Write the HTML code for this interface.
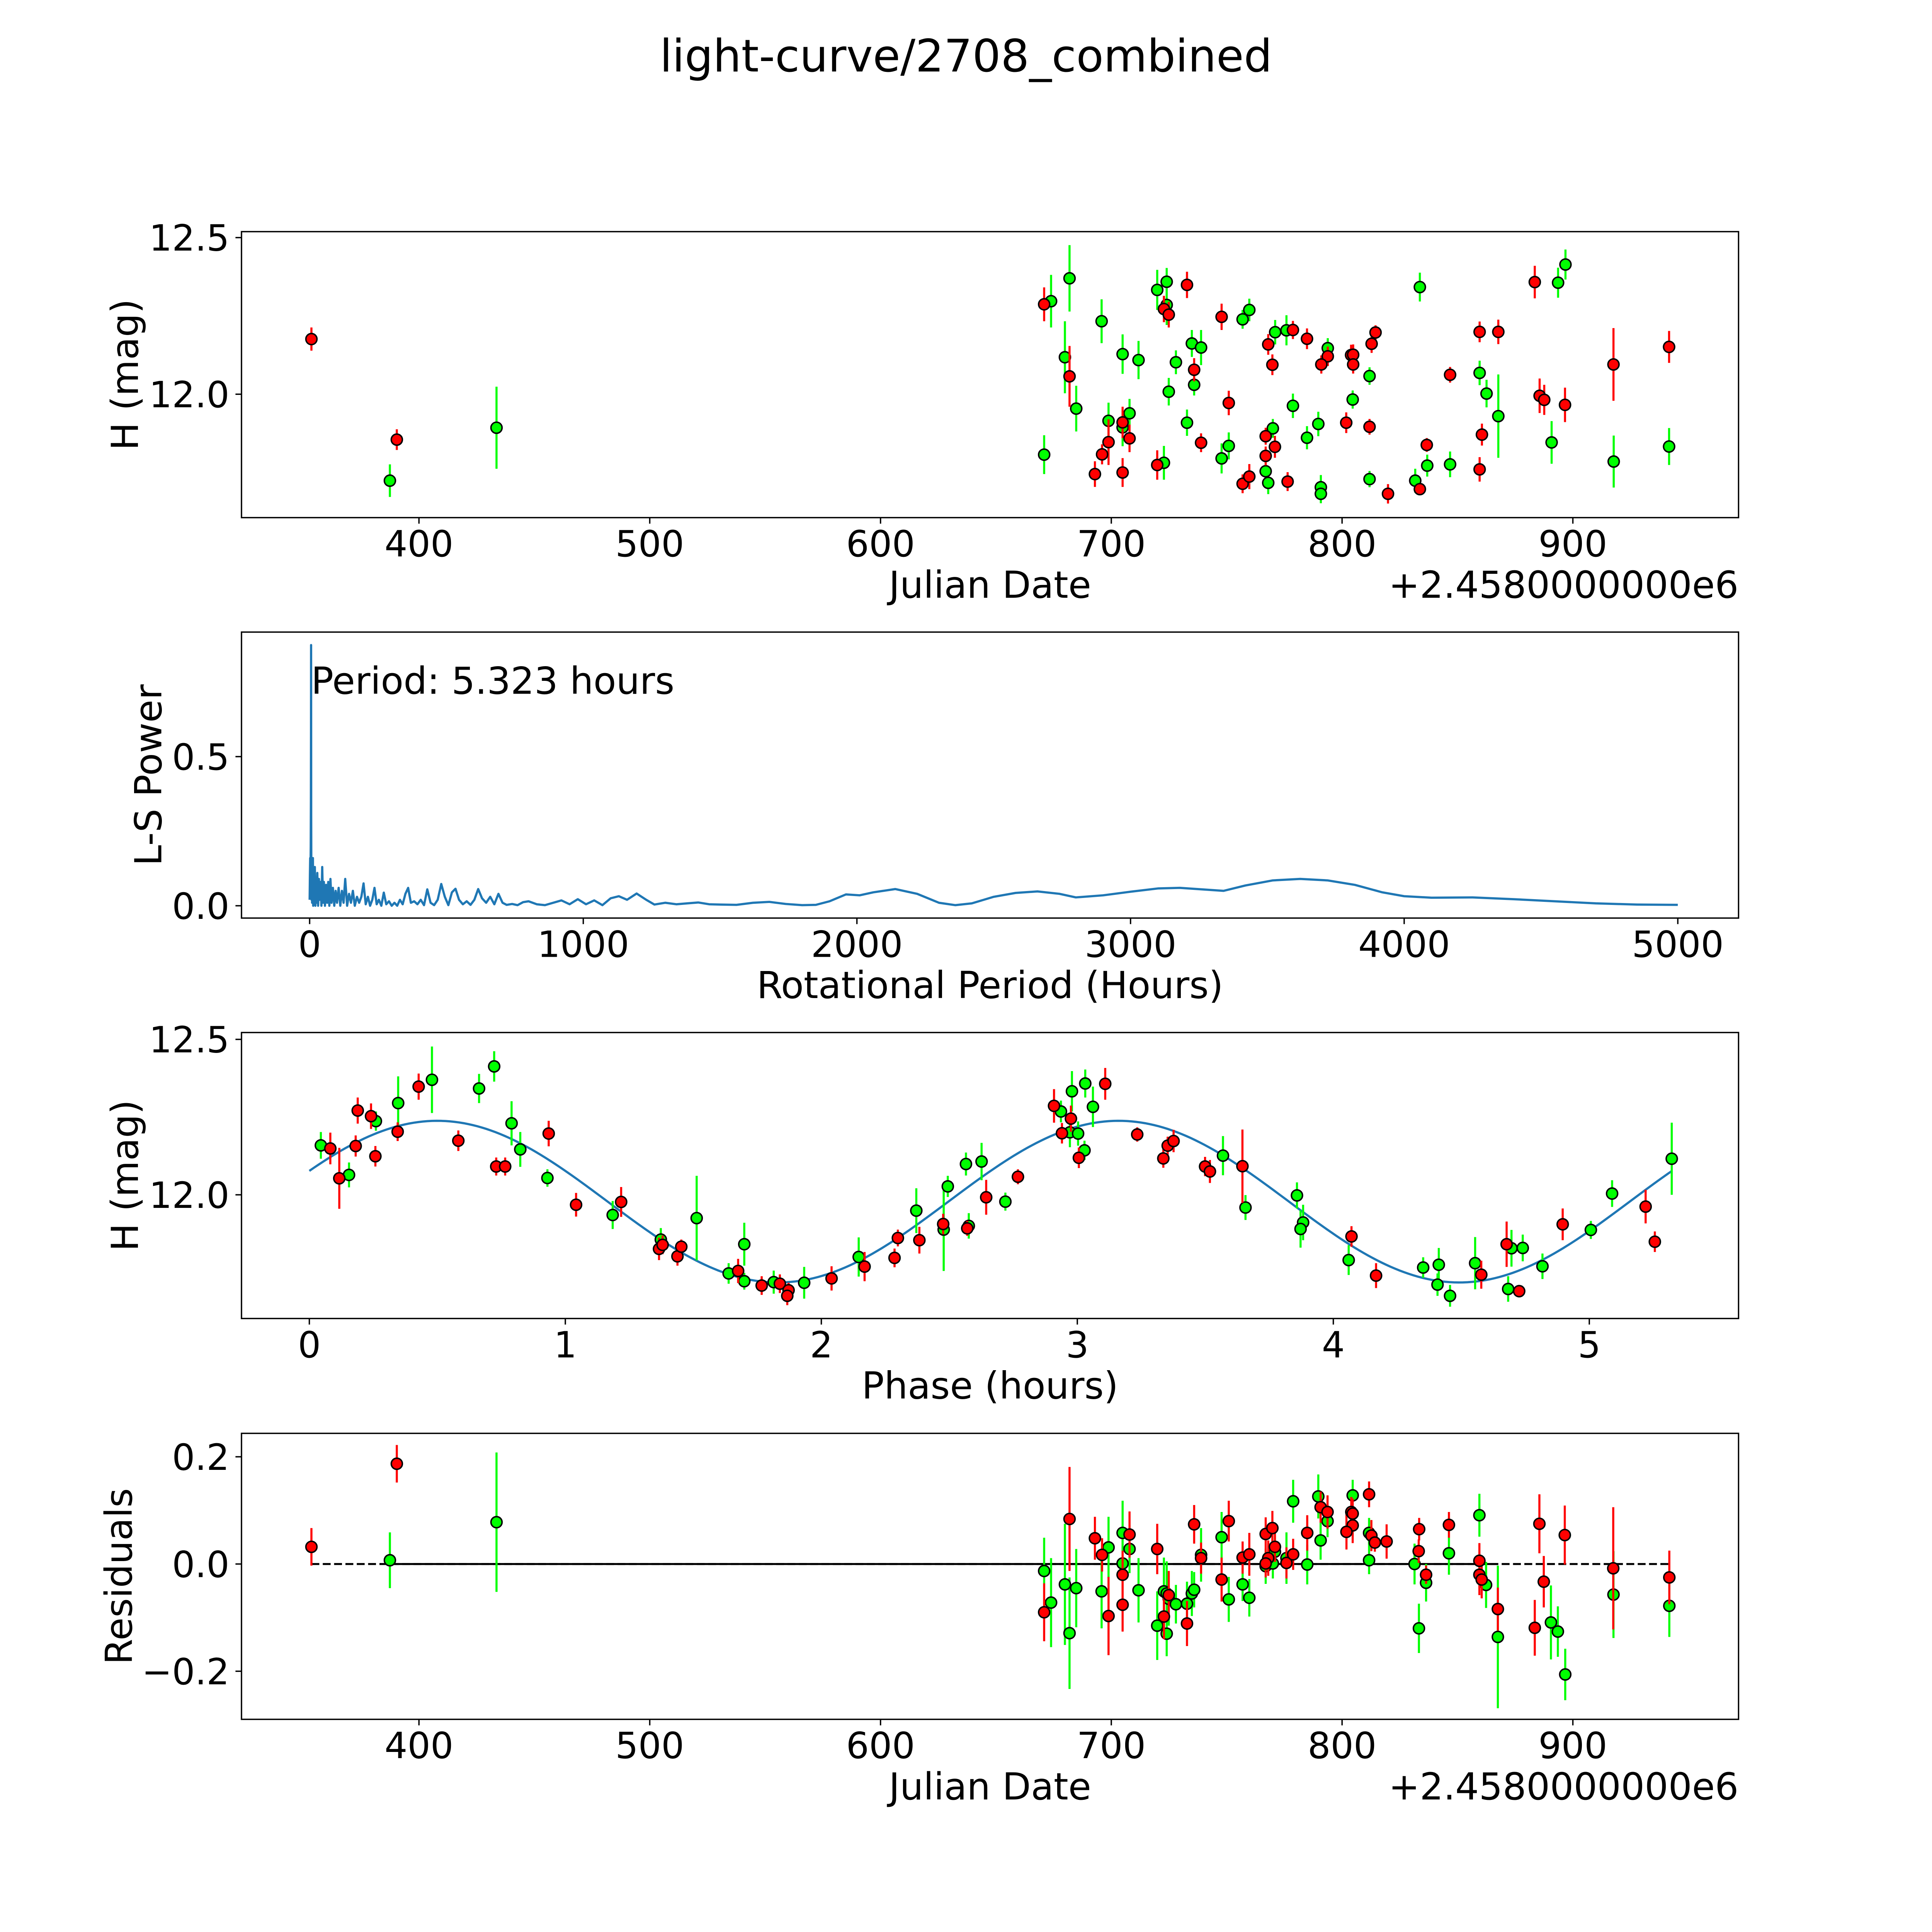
<!DOCTYPE html>
<html><head><meta charset="utf-8">
<style>
html,body{margin:0;padding:0;background:#fff;overflow:hidden;width:100vw;height:100vh;}
svg{display:block;width:100vw;height:100vh;}
text{font-family:"DejaVu Sans","Liberation Sans",sans-serif;fill:#000;}
</style></head>
<body>
<svg id="fig" xmlns="http://www.w3.org/2000/svg" viewBox="0 0 1568 1568" preserveAspectRatio="none">
<rect x="0" y="0" width="1568" height="1568" fill="#fff"/>
<text x="784" y="58" font-size="36.3" text-anchor="middle">light-curve/2708_combined</text>
</svg>
<script>
// ---------- Panel 1: light curve vs Julian Date ----------
const p1GreenJD  = [387.4,433.6,673.9,681.9,695.8,679.9,684.8,670.9,704.9,711.8,698.8,704.9,707.9,719.9,724.0,724.0,728.0,724.9,722.8,734.9,738.9,735.9,732.8,756.9,759.8,750.9,747.8,771.0,775.9,770.0,766.9,768.0,793.8,778.7,789.7,784.8,804.6,790.8,790.8,811.9,831.7,833.7,836.9,846.8,859.6,862.6,867.7,893.6,896.8,890.8,917.7,941.7,811.9];
const p1GreenMag = [11.724,11.893,12.297,12.370,12.233,12.118,11.954,11.807,12.128,12.109,11.915,11.894,11.939,12.333,12.359,12.285,12.102,12.008,11.781,12.162,12.149,12.030,11.909,12.239,12.269,11.835,11.795,12.198,12.204,11.891,11.754,11.717,12.147,11.963,11.905,11.861,11.983,11.703,11.682,11.729,11.724,12.342,11.772,11.776,12.068,12.002,11.930,12.356,12.414,11.846,11.785,11.833,12.058];
const p1GreenErr = [0.052,0.131,0.084,0.106,0.070,0.115,0.073,0.062,0.063,0.061,0.058,0.060,0.046,0.064,0.044,0.064,0.038,0.044,0.054,0.043,0.056,0.034,0.042,0.030,0.036,0.043,0.048,0.039,0.048,0.030,0.030,0.036,0.032,0.039,0.039,0.037,0.029,0.039,0.030,0.026,0.038,0.046,0.035,0.041,0.039,0.044,0.133,0.048,0.048,0.068,0.083,0.059,0.028];
const p1RedJD  = [353.4,390.4,670.9,681.9,698.8,696.0,692.9,704.9,707.9,704.9,722.8,724.9,732.8,719.9,735.9,738.9,747.8,750.9,756.9,759.8,768.0,769.8,766.9,770.9,766.9,778.7,784.8,793.8,791.0,803.9,804.8,804.8,812.8,814.5,801.8,811.9,776.4,819.9,833.7,836.7,846.8,859.6,867.7,860.6,859.6,883.5,885.6,887.6,896.6,917.6,941.7];
const p1RedMag = [12.176,11.855,12.287,12.057,11.847,11.808,11.745,11.910,11.859,11.750,12.272,12.254,12.349,11.774,12.078,11.845,12.247,11.972,11.714,11.737,12.159,12.094,11.866,11.832,11.803,12.205,12.177,12.121,12.095,12.125,12.126,12.095,12.161,12.197,11.909,11.896,11.721,11.682,11.697,11.838,12.062,12.199,12.199,11.871,11.760,12.358,11.995,11.982,11.966,12.095,12.151];
const p1RedErr = [0.037,0.033,0.054,0.097,0.073,0.032,0.041,0.050,0.044,0.046,0.042,0.041,0.042,0.047,0.037,0.030,0.042,0.039,0.030,0.040,0.033,0.033,0.027,0.035,0.030,0.029,0.033,0.031,0.029,0.033,0.033,0.029,0.029,0.023,0.033,0.025,0.030,0.031,0.019,0.022,0.025,0.033,0.039,0.035,0.039,0.052,0.055,0.048,0.055,0.116,0.051];
const jdTicks = [400,500,600,700,800,900];
const magTicks = [12.0,12.5];
const magTickLabels = ["12.0","12.5"];

// ---------- Panel 2: Lomb-Scargle periodogram ----------
const pgPeriod = [0,1,2,3,4,4.6,5.0,5.2,5.323,5.45,5.7,6.2,7,8,9,10,11,12,13,15,17,19,21,23,25,28,31,34,37,40,43,46,49,52,56,60,64,68,72,76,80,85,90,95,100,106,112,118,124,130,137,144,151,158,165,173,181,189,197,205,213,221,229,237,245,253,262,271,280,290,300,310,320,330,340,350,360,370,382,394,406,418,430,442,455,468,481,494,507,520,533,546,560,574,588,602,616,630,645,660,675,690,705,720,740,760,780,800,830,860,890,920,950,980,1010,1040,1070,1100,1130,1160,1195,1230,1260,1300,1340,1380,1420,1460,1500,1560,1620,1680,1740,1800,1850,1900,1960,2010,2060,2140,2220,2300,2360,2420,2500,2580,2660,2740,2800,2900,3000,3100,3180,3260,3340,3420,3520,3620,3720,3820,3920,4000,4100,4250,4400,4550,4700,4850,5000];
const pgPower = [0.02,0.10,0.16,0.10,0.20,0.35,0.60,0.80,0.874,0.70,0.30,0.12,0.02,0.15,0.01,0.12,0.02,0.16,0.0,0.10,0.01,0.13,0.0,0.09,0.01,0.11,0.0,0.09,0.02,0.08,0.0,0.13,0.01,0.08,0.0,0.07,0.01,0.08,0.0,0.09,0.01,0.06,0.0,0.05,0.01,0.06,0.0,0.05,0.01,0.09,0.0,0.04,0.01,0.05,0.0,0.03,0.01,0.03,0.075,0.005,0.03,0.0,0.02,0.06,0.005,0.02,0.0,0.044,0.005,0.015,0.0,0.01,0.0,0.02,0.005,0.04,0.06,0.01,0.015,0.005,0.02,0.002,0.055,0.01,0.002,0.02,0.073,0.03,0.002,0.045,0.057,0.02,0.005,0.015,0.003,0.02,0.056,0.025,0.01,0.03,0.005,0.04,0.01,0.003,0.006,0.002,0.012,0.015,0.005,0.002,0.01,0.018,0.005,0.022,0.005,0.018,0.002,0.025,0.032,0.02,0.041,0.02,0.004,0.01,0.005,0.008,0.011,0.005,0.004,0.003,0.01,0.013,0.006,0.002,0.003,0.015,0.038,0.035,0.045,0.056,0.04,0.01,0.002,0.008,0.03,0.043,0.048,0.04,0.028,0.035,0.047,0.058,0.06,0.055,0.05,0.068,0.085,0.09,0.085,0.07,0.045,0.032,0.027,0.028,0.022,0.015,0.008,0.004,0.003];
const pgTicksX = [0,1000,2000,3000,4000,5000];
const pgTicksY = [0.0,0.5];
const pgTickLabelsY = ["0.0","0.5"];
const bestPeriodLabel = "Period: 5.323 hours";

// ---------- Panel 3: phased light curve ----------
const phGreenPhase = [0.045,0.155,0.260,0.347,0.479,0.663,0.722,0.790,0.824,0.930,1.185,1.373,1.513,1.638,1.699,1.699,1.814,1.933,2.146,2.371,2.478,2.494,2.565,2.626,2.576,2.719,2.936,2.979,3.031,3.061,2.971,3.003,3.028,3.569,3.657,3.858,3.882,3.872,4.060,4.351,4.412,4.407,4.456,4.554,4.696,4.740,4.683,4.817,5.006,5.089,5.322];
const phGreenMag = [12.159,12.064,12.237,12.295,12.370,12.342,12.413,12.230,12.146,12.054,11.935,11.856,11.925,11.747,11.841,11.722,11.719,11.717,11.800,11.949,11.888,12.027,12.099,12.107,11.900,11.978,12.268,12.333,12.358,12.283,12.201,12.197,12.143,12.126,11.959,11.998,11.911,11.890,11.790,11.766,11.775,11.711,11.675,11.780,11.828,11.829,11.697,11.770,11.887,12.004,12.116];
const phGreenErr = [0.043,0.040,0.031,0.086,0.107,0.047,0.049,0.071,0.056,0.028,0.045,0.037,0.136,0.033,0.069,0.027,0.037,0.051,0.063,0.072,0.133,0.034,0.037,0.060,0.041,0.029,0.035,0.065,0.045,0.065,0.048,0.039,0.031,0.063,0.040,0.042,0.057,0.060,0.048,0.033,0.054,0.036,0.035,0.084,0.059,0.043,0.041,0.041,0.029,0.043,0.116];
const phRedPhase = [0.082,0.117,0.181,0.189,0.241,0.258,0.345,0.427,0.582,0.730,0.765,0.935,1.042,1.218,1.366,1.380,1.438,1.453,1.675,1.767,1.838,1.872,1.867,2.040,2.169,2.286,2.299,2.383,2.476,2.570,2.644,2.768,2.909,3.109,2.975,2.940,3.006,3.234,3.353,3.376,3.336,3.499,3.518,3.645,4.071,4.167,4.578,4.677,4.726,4.896,5.220,5.256];
const phRedMag = [12.149,12.053,12.157,12.271,12.253,12.124,12.203,12.348,12.174,12.091,12.091,12.197,11.968,11.977,11.826,11.839,11.802,11.833,11.755,11.708,11.714,11.693,11.675,11.731,11.769,11.797,11.861,11.854,11.906,11.892,11.992,12.058,12.286,12.357,12.245,12.198,12.119,12.194,12.158,12.173,12.117,12.091,12.075,12.092,11.866,11.740,11.743,11.841,11.690,11.905,11.962,11.849];
const phRedErr = [0.051,0.098,0.034,0.042,0.041,0.033,0.030,0.042,0.033,0.029,0.029,0.041,0.038,0.048,0.036,0.030,0.030,0.023,0.039,0.030,0.030,0.024,0.030,0.039,0.047,0.030,0.027,0.043,0.033,0.024,0.056,0.024,0.054,0.051,0.042,0.033,0.033,0.023,0.029,0.036,0.030,0.031,0.037,0.118,0.033,0.040,0.045,0.073,0.020,0.051,0.054,0.033];
const phaseTicks = [0,1,2,3,4,5];
// sinusoidal model: [mean mag, amplitude, phase of max (h), model period (h), full period (h)]
const fitParams = [11.978, 0.26, 0.50, 2.6615, 5.323];

// ---------- Panel 4: residuals ----------
const resGreenJD = [387.4,433.6,670.9,673.9,681.9,679.9,684.8,695.8,698.8,704.9,707.9,704.9,711.8,719.9,722.8,724.0,724.9,724.0,728.0,732.8,734.9,735.9,738.9,747.8,750.9,756.9,759.8,770.9,766.9,770.0,775.9,778.8,784.9,789.7,793.7,790.7,804.6,811.7,811.7,831.4,836.4,833.3,846.3,859.5,862.4,867.5,890.5,893.5,896.7,917.6,941.8];
const resGreenVal = [0.007,0.078,-0.013,-0.072,-0.129,-0.038,-0.045,-0.051,0.031,0.058,0.028,0.001,-0.049,-0.115,-0.051,-0.055,-0.065,-0.130,-0.075,-0.074,-0.055,-0.048,0.017,0.050,-0.066,-0.038,-0.063,0.023,-0.004,0.001,0.011,0.117,-0.001,0.126,0.080,0.044,0.128,0.058,0.007,0.000,-0.035,-0.120,0.020,0.091,-0.039,-0.136,-0.109,-0.126,-0.206,-0.057,-0.078];
const resGreenErr = [0.052,0.13,0.062,0.083,0.104,0.113,0.073,0.069,0.057,0.060,0.045,0.057,0.060,0.064,0.063,0.06,0.05,0.042,0.036,0.041,0.042,0.033,0.05,0.047,0.042,0.031,0.035,0.03,0.033,0.028,0.048,0.040,0.037,0.041,0.030,0.036,0.029,0.028,0.026,0.038,0.035,0.046,0.040,0.040,0.043,0.133,0.069,0.047,0.048,0.081,0.058];
const resRedJD = [353.4,390.4,670.9,681.9,692.9,696.0,698.8,707.9,704.9,704.9,719.9,722.8,724.9,732.8,735.9,738.9,747.8,750.9,756.9,759.8,766.9,769.8,770.9,768.0,766.9,775.9,778.8,784.9,790.7,793.7,804.0,804.6,804.6,801.9,811.7,812.7,814.2,819.3,833.4,833.2,836.4,846.3,859.5,859.5,860.5,867.5,883.5,885.5,887.4,896.5,917.5,941.8];
const resRedVal = [0.032,0.187,-0.090,0.084,0.048,0.017,-0.097,0.055,-0.020,-0.076,0.028,-0.098,-0.058,-0.111,0.074,0.011,-0.029,0.080,0.012,0.018,0.056,0.067,0.032,0.011,0.001,0.002,0.018,0.058,0.106,0.097,0.097,0.094,0.072,0.060,0.130,0.053,0.040,0.042,0.065,0.024,-0.020,0.073,0.006,-0.020,-0.029,-0.084,-0.119,0.075,-0.033,0.054,-0.008,-0.025];
const resRedErr = [0.035,0.035,0.054,0.097,0.040,0.031,0.073,0.043,0.045,0.050,0.047,0.042,0.045,0.042,0.036,0.029,0.041,0.038,0.030,0.040,0.031,0.032,0.028,0.033,0.026,0.029,0.029,0.033,0.029,0.031,0.028,0.028,0.033,0.033,0.024,0.029,0.017,0.032,0.021,0.022,0.017,0.024,0.033,0.038,0.035,0.040,0.052,0.055,0.048,0.055,0.114,0.050];
const resTicks = [-0.2,0.0,0.2];
const resTickLabels = ["\u22120.2","0.0","0.2"];
const zeroLineRange = [353.4, 941.8];
const zeroSolidRange = [387.4, 867.7];

// ---------- drawing ----------
const NS = "http://www.w3.org/2000/svg";
const fig = document.getElementById('fig');
const TICK_FS = 29.3, LABEL_FS = 30.2;
function mk(tag, attrs, parent){
  const e = document.createElementNS(NS, tag);
  for (const k in attrs) e.setAttribute(k, attrs[k]);
  (parent||fig).appendChild(e);
  return e;
}
const AX_L = 196, AX_R = 1411, AX_W = AX_R - AX_L;
function linScale(d0,d1,r0,r1){ return v => r0 + (v-d0)/(d1-d0)*(r1-r0); }

function makeAxes(name, top, xlim, ylim){
  const bottom = top + 232.1;
  const g = mk('g', {});
  
  
  return {g, top, bottom, x: linScale(xlim[0],xlim[1],AX_L,AX_R), y: linScale(ylim[0],ylim[1],bottom,top)};
}
function frame(ax){
  const r = mk('rect', {x:AX_L, y:ax.top, width:AX_W, height:ax.bottom-ax.top, fill:'none', stroke:'#000', 'stroke-width':1.1}, ax.g);
  
  
}
function xTicks(ax, vals, labels){
  vals.forEach((v,i)=>{
    const px = ax.x(v);
    const t = mk('line', {x1:px, x2:px, y1:ax.bottom, y2:ax.bottom+4.9, stroke:'#000', 'stroke-width':1.1}, ax.g);
    
    
    const tx = mk('text', {x:px, y:ax.bottom+31.5, 'font-size':TICK_FS, 'text-anchor':'middle'}, ax.g);
    tx.textContent = labels ? labels[i] : String(v);
    
    
  });
}
function yTicks(ax, vals, labels){
  vals.forEach((v,i)=>{
    const py = ax.y(v);
    const t = mk('line', {x1:AX_L-4.9, x2:AX_L, y1:py, y2:py, stroke:'#000', 'stroke-width':1.1}, ax.g);
    
    
    const tx = mk('text', {x:AX_L-9.8, y:py+10.6, 'font-size':TICK_FS, 'text-anchor':'end'}, ax.g);
    tx.textContent = labels[i];
    
    
  });
}
function xLabel(ax, txt, name){
  const t = mk('text', {x:(AX_L+AX_R)/2, y:ax.bottom+65, 'font-size':LABEL_FS, 'text-anchor':'middle'}, ax.g);
  t.textContent = txt;
  
  
}
function offsetLabel(ax){
  const t = mk('text', {x:AX_R, y:ax.bottom+65, 'font-size':LABEL_FS, 'text-anchor':'end'}, ax.g);
  t.textContent = '+2.4580000000e6';
  
  
}
function yLabel(ax, txt, bx, name){
  const cy = (ax.top+ax.bottom)/2;
  const t = mk('text', {x:bx, y:cy, 'font-size':LABEL_FS, 'text-anchor':'middle', transform:'rotate(-90 '+bx+' '+cy+')'}, ax.g);
  t.textContent = txt;
  
  
}
function errPoints(ax, xs, ys, es, color, name){
  const g = mk('g', {}, ax.g);
  
  
  xs.forEach((xv,i)=>{
    const px = ax.x(xv);
    const b = mk('line', {x1:px, x2:px, y1:ax.y(ys[i]-es[i]), y2:ax.y(ys[i]+es[i]), stroke:color, 'stroke-width':1.7}, g);
    
    
  });
  xs.forEach((xv,i)=>{
    const c = mk('circle', {cx:ax.x(xv), cy:ax.y(ys[i]), r:4.5, fill:color, stroke:'#000', 'stroke-width':1.2}, g);
    
    
  });
}

// Panel 1
const a1 = makeAxes('light-curve-panel', 188, [323.1, 971.8], [11.606, 12.519]);
errPoints(a1, p1GreenJD, p1GreenMag, p1GreenErr, '#00ff00', 'green-series');
errPoints(a1, p1RedJD, p1RedMag, p1RedErr, '#ff0000', 'red-series');
frame(a1); xTicks(a1, jdTicks); yTicks(a1, magTicks, magTickLabels);
xLabel(a1, 'Julian Date', 'x-axis-title'); offsetLabel(a1); yLabel(a1, 'H (mag)', 112, 'y-axis-title');

// Panel 2
const a2 = makeAxes('periodogram-panel', 513, [-249, 5222], [-0.0413, 0.9175]);
let d = '';
pgPeriod.forEach((p,i)=>{ d += (i? 'L':'M') + a2.x(p).toFixed(2) + ' ' + a2.y(pgPower[i]).toFixed(2); });
const pl = mk('path', {d:d, fill:'none', stroke:'#1f77b4', 'stroke-width':1.8, 'stroke-linejoin':'round'}, a2.g);


frame(a2); xTicks(a2, pgTicksX); yTicks(a2, pgTicksY, pgTickLabelsY);
xLabel(a2, 'Rotational Period (Hours)', 'x-axis-title'); yLabel(a2, 'L-S Power', 131, 'y-axis-title');
const ann = mk('text', {x:a2.x(5.323), y:563, 'font-size':LABEL_FS}, a2.g);
ann.textContent = bestPeriodLabel;



// Panel 3
const a3 = makeAxes('phased-curve-panel', 838, [-0.265, 5.583], [11.602, 12.522]);
let fd = '';
for (let k=0;k<=300;k++){
  const p = fitParams[4]*k/300;
  const m = fitParams[0] + fitParams[1]*Math.cos(2*Math.PI*(p-fitParams[2])/fitParams[3]);
  fd += (k? 'L':'M') + a3.x(p).toFixed(2) + ' ' + a3.y(m).toFixed(2);
}
const fl = mk('path', {d:fd, fill:'none', stroke:'#1f77b4', 'stroke-width':1.8}, a3.g);


errPoints(a3, phGreenPhase, phGreenMag, phGreenErr, '#00ff00', 'green-series');
errPoints(a3, phRedPhase, phRedMag, phRedErr, '#ff0000', 'red-series');
frame(a3); xTicks(a3, phaseTicks); yTicks(a3, magTicks, magTickLabels);
xLabel(a3, 'Phase (hours)', 'x-axis-title'); yLabel(a3, 'H (mag)', 112, 'y-axis-title');

// Panel 4
const a4 = makeAxes('residuals-panel', 1163.3, [323.1, 971.8], [-0.2897, 0.2437]);
const z1 = mk('line', {x1:a4.x(zeroLineRange[0]), x2:a4.x(zeroLineRange[1]), y1:a4.y(0), y2:a4.y(0), stroke:'#000', 'stroke-width':1.6, 'stroke-dasharray':'6.4 2.8'}, a4.g);


const z2 = mk('line', {x1:a4.x(zeroSolidRange[0]), x2:a4.x(zeroSolidRange[1]), y1:a4.y(0), y2:a4.y(0), stroke:'#000', 'stroke-width':1.6}, a4.g);


errPoints(a4, resGreenJD, resGreenVal, resGreenErr, '#00ff00', 'green-series');
errPoints(a4, resRedJD, resRedVal, resRedErr, '#ff0000', 'red-series');
frame(a4); xTicks(a4, jdTicks); yTicks(a4, resTicks, resTickLabels);
xLabel(a4, 'Julian Date', 'x-axis-title'); offsetLabel(a4); yLabel(a4, 'Residuals', 107, 'y-axis-title');
</script>
</body></html>
